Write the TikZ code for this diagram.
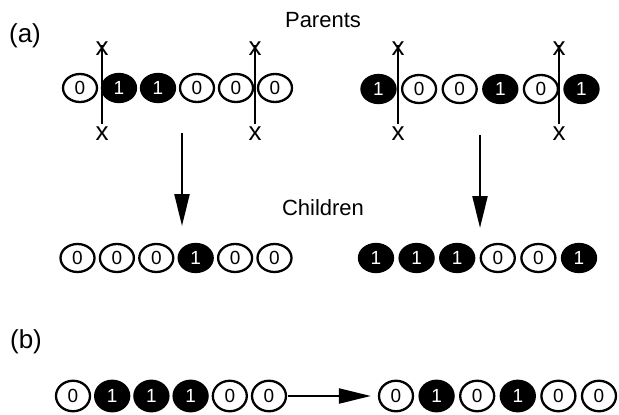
\documentclass[tikz,border=0pt]{standalone}
\usepackage{fontspec}
\setmainfont{Liberation Sans}
\usetikzlibrary{shapes.geometric,arrows.meta}

\tikzset{
  bitcell/.style={ellipse, minimum width=34pt, minimum height=28pt, inner sep=0pt,
    line width=2.3pt, draw=black, font=\fontsize{19}{19}\selectfont},
  bit0/.style={bitcell, fill=white, text=black},
  bit1/.style={bitcell, fill=black, text=white},
  tallcell/.style={minimum height=30.5pt},
  heading/.style={font=\fontsize{22}{22}\selectfont},
  partlabel/.style={font=\fontsize{26}{26}\selectfont},
  cutmark/.style={font=\fontsize{26}{26}\selectfont, inner sep=0pt},
  cutline/.style={line width=2.3pt},
  flow/.style={line width=2.3pt, -{Triangle[length=32pt,width=15pt]}},
}

\begin{document}
\begin{tikzpicture}[x=1pt, y=-1pt]
\useasboundingbox (0,0) rectangle (619,415);

% headings and part labels
\node[heading] (parents) at (323,20) {Parents};
\node[heading] (children) at (323,208) {Children};
\node[partlabel] (pa) at (25,36) {(a)};
\node[partlabel] (pb) at (26,342) {(b)};

% parent strings
\foreach \v [count=\i] in {0,1,1,0,0,0}
  \node[bit\v] (pA\i) at ({80+39*(\i-1)},88) {\v};
\foreach \v [count=\i] in {1,0,0,1,0,1}
  \node[bit\v] (pB\i) at ({378.5+40.6*(\i-1)},89) {\v};

% crossover cut points
\foreach \cx [count=\k] in {102,255,398,559} {
  \coordinate (cutlo\k) at (\cx,124);
  \coordinate (cuthi\k) at (\cx,45);
  \node[cutmark] (xt\k) at (\cx,49) {x};
  \node[cutmark] (xb\k) at (\cx,134) {x};
  \draw[cutline] (cutlo\k) -- (cuthi\k);
}

% arrows from parents to children
\coordinate (dA0) at (182,133);
\coordinate (dA1) at (182,226);
\coordinate (dB0) at (480,135);
\coordinate (dB1) at (480,228);
\draw[flow] (dA0) -- (dA1);
\draw[flow] (dB0) -- (dB1);

% children strings
\foreach \v [count=\i] in {0,0,0,1,0,0}
  \node[bit\v] (cA\i) at ({77.5+39.4*(\i-1)},258) {\v};
\foreach \v [count=\i] in {1,1,1,0,0,1}
  \node[bit\v] (cB\i) at ({376+40.6*(\i-1)},258) {\v};

% mutation example
\foreach \v [count=\i] in {0,1,1,1,0,0}
  \node[bit\v, tallcell] (mA\i) at ({73+39.2*(\i-1)},396) {\v};
\foreach \v [count=\i] in {0,1,0,1,0,0}
  \node[bit\v, tallcell] (mB\i) at ({396+40.6*(\i-1)},396) {\v};
\draw[flow, shorten <=1pt, shorten >=7pt] (mA6.east) -- (mB1.west);
\end{tikzpicture}
\end{document}
